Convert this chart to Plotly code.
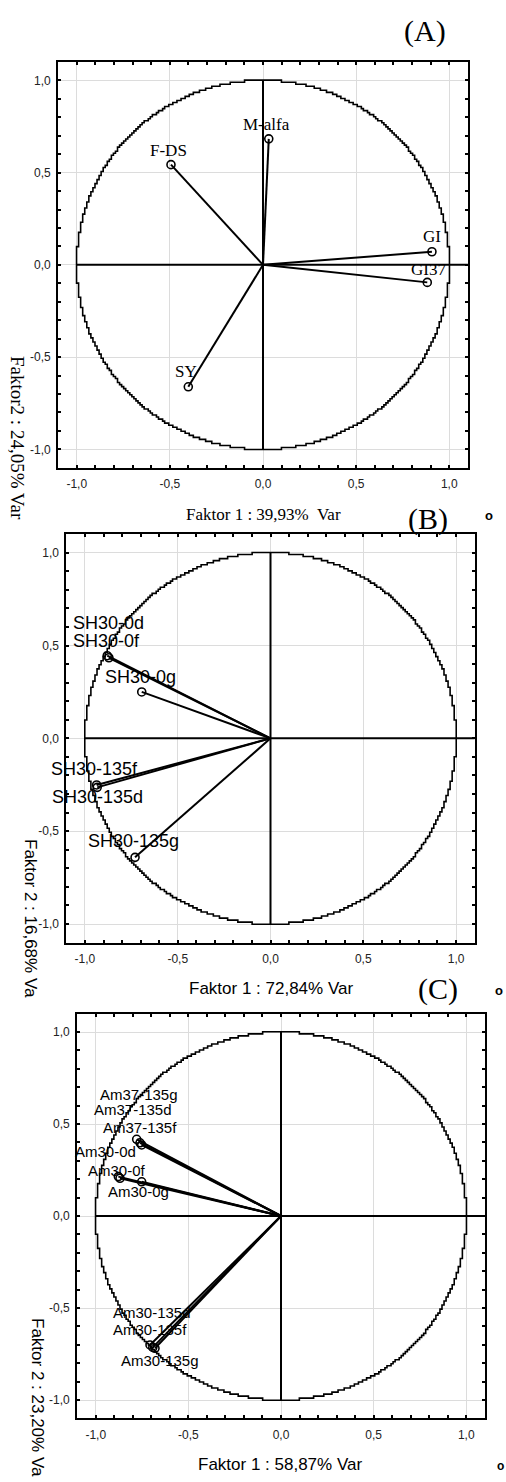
import numpy as np
import plotly.graph_objects as go

W, H = 506, 1482

# ---- factor loadings -------------------------------------------------------
a_names = ["M-alfa", "F-DS", "GI", "GI37", "SY"]
a_f1 = [0.031, -0.494, 0.907, 0.882, -0.401]
a_f2 = [0.683, 0.543, 0.071, -0.095, -0.661]

b_names = ["SH30-0d", "SH30-0f", "SH30-0g", "SH30-135f", "SH30-135d", "SH30-135g"]
b_f1 = [-0.880, -0.871, -0.694, -0.937, -0.934, -0.730]
b_f2 = [0.445, 0.434, 0.250, -0.251, -0.264, -0.641]

c_names = ["Am37-135g", "Am37-135d", "Am37-135f", "Am30-0d", "Am30-0f",
           "Am30-0g", "Am30-135d", "Am30-135f", "Am30-135g"]
c_f1 = [-0.779, -0.761, -0.752, -0.878, -0.869, -0.752, -0.707, -0.692, -0.680]
c_f2 = [0.417, 0.398, 0.386, 0.214, 0.205, 0.186, -0.701, -0.714, -0.719]

tick_vals = [-1.0, -0.5, 0.0, 0.5, 1.0]
tick_text = ["-1,0", "-0,5", "0,0", "0,5", "1,0"]

# label offsets in pixels (dx, dy up)
a_off = [(-2, 14), (-2, 14), (0, 15), (1, 13), (-2, 15)]
b_off = [(1, 33), (-2, 17), (-1, 15), (-2, 16), (0, -10), (-2, 16)]
c_off = [(2, 45), (-7, 33), (-2, 17), (-13, 25), (-3, 8), (-3, -10),
         (2, 32), (-3, 18), (5, -12)]

SERIF = "Liberation Serif"
SANS = "Liberation Sans"


def xdom(a, b):
    return [a / W, b / W]


def ydom(top, bottom):
    return [1 - bottom / H, 1 - top / H]


panels = [
    dict(names=a_names, f1=a_f1, f2=a_f2, off=a_off, font=SERIF, fsize=17,
         xd=xdom(58.1, 467.9), yd=ydom(61.9, 467.8)),
    dict(names=b_names, f1=b_f1, f2=b_f2, off=b_off, font=SANS, fsize=18,
         xd=xdom(66.4, 474.6), yd=ydom(534.1, 942.6)),
    dict(names=c_names, f1=c_f1, f2=c_f2, off=c_off, font=SANS, fsize=15,
         xd=xdom(77.2, 484.8), yd=ydom(1013.6, 1418.4)),
]

# pixel-stepped unit circle: snap to a grid, put each step corner on the outside
q = 0.011
t = np.linspace(0, 2 * np.pi, 2881)
gx = np.round(np.cos(t) / q) * q
gy = np.round(np.sin(t) / q) * q
keep = np.r_[True, (np.diff(gx) != 0) | (np.diff(gy) != 0)]
gx, gy = gx[keep], gy[keep]
cx, cy = [gx[0]], [gy[0]]
for x1, y1, x2, y2 in zip(gx[:-1], gy[:-1], gx[1:], gy[1:]):
    if x1 != x2 and y1 != y2:
        if x2 * x2 + y1 * y1 >= x1 * x1 + y2 * y2:
            cx.append(x2); cy.append(y1)
        else:
            cx.append(x1); cy.append(y2)
    cx.append(x2); cy.append(y2)

fig = go.Figure()
annotations = []
shapes = []
layout_axes = {}

for i, p in enumerate(panels, start=1):
    sx = "" if i == 1 else str(i)
    xa, ya = "x" + sx, "y" + sx

    fig.add_trace(go.Scatter(x=cx, y=cy, mode="lines",
                             line=dict(color="black", width=1.6),
                             xaxis=xa, yaxis=ya, hoverinfo="skip"))

    # axis cross
    shapes.append(dict(type="line", xref=xa, yref=ya, x0=-1, x1=1.11, y0=0, y1=0,
                       line=dict(color="black", width=2)))
    shapes.append(dict(type="line", xref=xa, yref=ya, x0=0, x1=0, y0=-1, y1=1,
                       line=dict(color="black", width=2)))

    # vectors from origin
    lx, ly = [], []
    for fx, fy in zip(p["f1"], p["f2"]):
        lx += [0, fx, None]
        ly += [0, fy, None]
    fig.add_trace(go.Scatter(x=lx, y=ly, mode="lines",
                             line=dict(color="black", width=2),
                             xaxis=xa, yaxis=ya, hoverinfo="skip"))
    fig.add_trace(go.Scatter(x=p["f1"], y=p["f2"], mode="markers",
                             marker=dict(symbol="circle-open", size=8, color="black",
                                         line=dict(width=1.6)),
                             xaxis=xa, yaxis=ya, hoverinfo="skip"))

    for name, fx, fy, (dx, dy) in zip(p["names"], p["f1"], p["f2"], p["off"]):
        annotations.append(dict(x=fx, y=fy, xref=xa, yref=ya, text=name,
                                showarrow=False, xshift=dx, yshift=dy,
                                font=dict(family=p["font"], size=p["fsize"], color="black")))

    common = dict(range=[-1.1, 1.1], tickmode="array", tickvals=tick_vals,
                  ticktext=tick_text, showgrid=True, gridcolor="#dcdcdc", gridwidth=1,
                  zeroline=False, showline=True, linecolor="black", linewidth=2,
                  mirror="allticks", ticks="inside", ticklen=3, tickwidth=1.5,
                  tickcolor="black",
                  minor=dict(tickmode="linear", tick0=0, dtick=0.1, ticks="inside",
                             ticklen=3, tickwidth=1.5, tickcolor="black", showgrid=False),
                  tickfont=dict(family=SANS, size=12, color="#222"),
                  fixedrange=True)
    layout_axes["xaxis" + sx] = dict(common, domain=p["xd"], anchor=ya, ticklabelstandoff=4)
    layout_axes["yaxis" + sx] = dict(common, domain=p["yd"], anchor=xa, ticklabelstandoff=3)


def paper(xp, yp):
    return xp / W, 1 - yp / H


def add_text(text, xp, yp, family, size, angle=0, xanchor="center"):
    x, y = paper(xp, yp)
    annotations.append(dict(x=x, y=y, xref="paper", yref="paper", text=text,
                            showarrow=False, textangle=angle, xanchor=xanchor,
                            yanchor="middle",
                            font=dict(family=family, size=size, color="black")))


# panel letters
add_text("(A)", 425, 31, SERIF, 30)
add_text("(B)", 428, 519, SERIF, 30)
add_text("(C)", 437.5, 989, SERIF, 30)
add_text("<b>o</b>", 489, 516, SANS, 13)
add_text("<b>o</b>", 499, 990, SANS, 13)
add_text("<b>o</b>", 500, 1466, SANS, 12)

# axis titles
add_text("Faktor 1 : 39,93%  Var", 263, 514, SERIF, 17)
add_text("Faktor2 : 24,05% Var", 18, 438, SERIF, 19, angle=90)
add_text("Faktor 1 : 72,84% Var", 271, 988, SANS, 17)
add_text("Faktor 2 : 16,68% Va", 30, 918, SANS, 17, angle=90)
add_text("Faktor 1 : 58,87% Var", 280, 1464, SANS, 17)
add_text("Faktor 2 : 23,20% Va", 38, 1397, SANS, 17, angle=90)

fig.update_layout(width=W, height=H, margin=dict(l=0, r=0, t=0, b=0),
                  paper_bgcolor="white", plot_bgcolor="white", showlegend=False,
                  annotations=annotations, shapes=shapes, **layout_axes)

fig.write_html("out.html", config={"displayModeBar": False})
